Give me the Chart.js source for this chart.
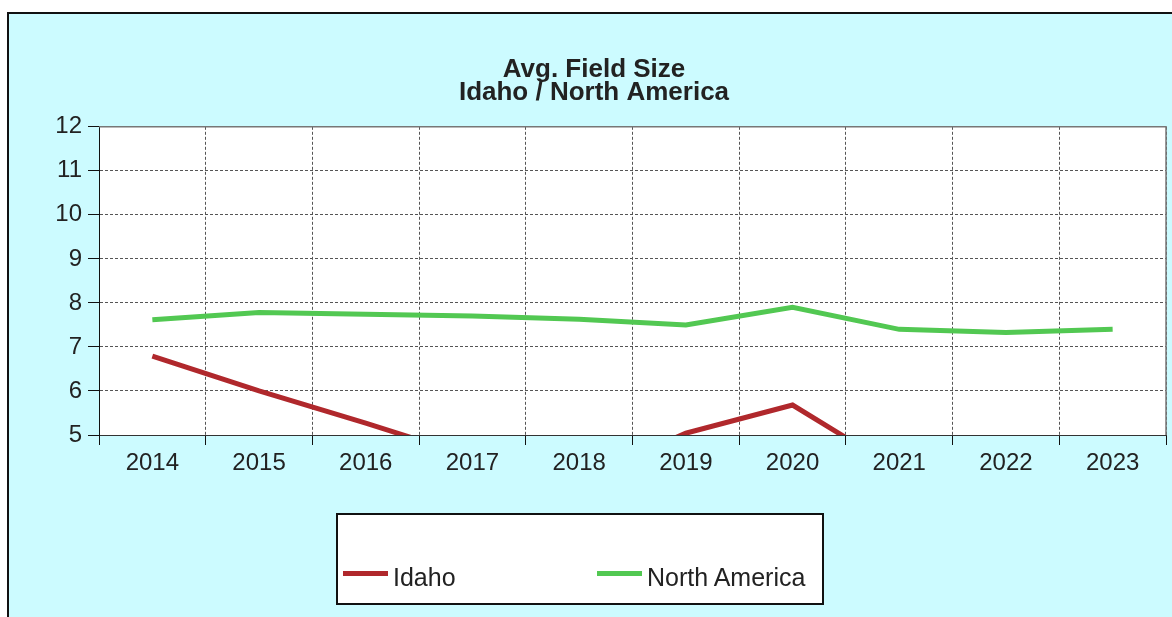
<!DOCTYPE html>
<html>
<head>
<meta charset="utf-8">
<script src="https://cdn.jsdelivr.net/npm/chart.js@4/dist/chart.umd.min.js"></script>
<style>
  html, body { margin: 0; padding: 0; background: #fff; overflow: hidden; }
  #frame {
    position: absolute; left: 7px; top: 12px; width: 1180px; height: 700px;
    background: #ccfbff; border: 2px solid #111; box-sizing: border-box;
  }
  #chart { position: absolute; left: 0; top: 0; }
  #legend {
    position: absolute; left: 336px; top: 513px; width: 488px; height: 92px;
    background: #fff; border: 2px solid #111; box-sizing: border-box;
    font-family: "Liberation Sans", Arial, sans-serif; font-size: 25px; color: #222;
  }
  #legend .row { position: absolute; left: 5px; top: 47px; height: 30px; display: flex; }
  #legend .item { width: 254px; display: flex; align-items: center; height: 30px; }
  #legend .swatch { width: 45px; height: 5px; margin-right: 5px; position: relative; top: -4px; }
</style>
</head>
<body>
<div id="frame"></div>
<canvas id="chart" width="1172" height="617"></canvas>
<div id="legend"><div class="row"></div></div>
<script>
const years = ["2014", "2015", "2016", "2017", "2018", "2019", "2020", "2021", "2022", "2023"];
const idaho = [6.79, 6.00, 5.27, 4.50, 4.00, 5.04, 5.68, 4.20, 4.10, 4.00];
const northAmerica = [7.62, 7.78, 7.74, 7.70, 7.63, 7.50, 7.90, 7.40, 7.33, 7.40];
const yTicks = [5, 6, 7, 8, 9, 10, 11, 12];

const font = "'Liberation Sans', Arial, sans-serif";

// white plot background and solid grey top/right edge
const plotFrame = {
    id: "plotFrame",
    beforeDraw(chart) {
        const a = chart.chartArea;
        const ctx = chart.ctx;
        ctx.save();
        ctx.fillStyle = "#fff";
        ctx.fillRect(a.left, a.top, a.right - a.left, a.bottom - a.top);
        ctx.restore();
    },
    beforeDatasetsDraw(chart) {
        const a = chart.chartArea;
        const ctx = chart.ctx;
        ctx.save();
        ctx.strokeStyle = "#777";
        ctx.lineWidth = 1.5;
        ctx.beginPath();
        ctx.moveTo(a.left, a.top);
        ctx.lineTo(a.right, a.top);
        ctx.lineTo(a.right, a.bottom);
        ctx.stroke();
        ctx.restore();
    }
};

const chart = new Chart(document.getElementById("chart"), {
    type: "line",
    data: {
        labels: years,
        datasets: [{
            label: "Idaho",
            data: idaho,
            borderColor: "#b0282c",
            backgroundColor: "#b0282c",
            borderWidth: 5,
            pointRadius: 0,
            tension: 0,
            clip: 0
        }, {
            label: "North America",
            data: northAmerica,
            borderColor: "#52c852",
            backgroundColor: "#52c852",
            borderWidth: 5,
            pointRadius: 0,
            tension: 0,
            clip: 0
        }]
    },
    options: {
        responsive: false,
        animation: false,
        layout: { padding: { left: 22, right: 6, top: 0, bottom: 139 } },
        plugins: {
            legend: { display: false },
            tooltip: { enabled: false },
            title: {
                display: true,
                text: ["Avg. Field Size", "Idaho / North America"],
                color: "#222",
                font: { family: font, size: 26, weight: "bold", lineHeight: 0.9 },
                padding: { top: 58, bottom: 22 }
            }
        },
        scales: {
            x: {
                offset: true,
                grid: { offset: true, color: "#555", tickColor: "#111", tickLength: 10, tickBorderDash: [] },
                border: { color: "#333", width: 1, dash: [3, 2] },
                ticks: { color: "#222", font: { family: font, size: 24 }, padding: 4, maxRotation: 0 },
                afterFit(scale) { scale.height = 43; }
            },
            y: {
                min: 5,
                max: 12,
                afterBuildTicks(scale) { scale.ticks = yTicks.map(v => ({ value: v })); },
                grid: { color: "#555", tickColor: "#111", tickLength: 11, tickBorderDash: [] },
                border: { color: "#111", width: 1, dash: [3, 2] },
                ticks: { color: "#222", font: { family: font, size: 24 }, padding: 6 },
                afterFit(scale) { scale.width = 77; }
            }
        }
    },
    plugins: [plotFrame]
});

// legend built from the chart's datasets
const row = document.querySelector("#legend .row");
chart.data.datasets.forEach(ds => {
    const item = document.createElement("div");
    item.className = "item";
    const sw = document.createElement("span");
    sw.className = "swatch";
    sw.style.background = ds.borderColor;
    const txt = document.createElement("span");
    txt.textContent = ds.label;
    item.appendChild(sw);
    item.appendChild(txt);
    row.appendChild(item);
});
</script>
</body>
</html>
